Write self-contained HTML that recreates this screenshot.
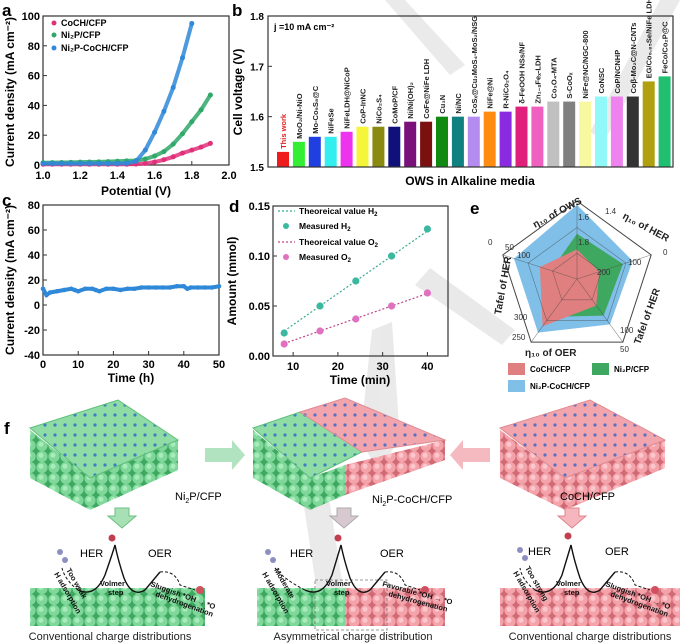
<!DOCTYPE html>
<html><head><meta charset="utf-8">
<style>
body{margin:0;background:#fff;}
svg{display:block;font-family:"Liberation Sans",Arial,sans-serif;}
.b{font-weight:bold}
</style></head>
<body>
<svg id="fig" width="689" height="644" viewBox="0 0 689 644" xmlns="http://www.w3.org/2000/svg">
<defs>
<pattern id="gCirc" width="12" height="11" patternUnits="userSpaceOnUse"><rect width="12" height="11" fill="#3fa860"/><circle cx="6" cy="5.5" r="5.6" fill="#7fd79a"/><circle cx="5" cy="4.3" r="2.5" fill="#a8ecbb"/></pattern>
<pattern id="rCirc" width="12" height="11" patternUnits="userSpaceOnUse"><rect width="12" height="11" fill="#d06a74"/><circle cx="6" cy="5.5" r="5.6" fill="#f4a3ab"/><circle cx="5" cy="4.3" r="2.5" fill="#fbc7cc"/></pattern>
<pattern id="gTop" width="10" height="10" patternUnits="userSpaceOnUse"><rect width="10" height="10" fill="#8fdca5"/><circle cx="5" cy="5" r="1.6" fill="#3b7fc0"/></pattern>
<pattern id="rTop" width="10" height="10" patternUnits="userSpaceOnUse"><rect width="10" height="10" fill="#f2a5ad"/><circle cx="5" cy="5" r="1.6" fill="#5a6fc0"/></pattern>
</defs>

<g fill="#dcdcdc" opacity="0.6">
<polygon points="385,0 405,0 465,65 450,75"/>
<polygon points="660,0 680,0 605,140 590,132"/>
<polygon points="415,285 430,268 515,330 502,345"/>
<polygon points="372,330 392,322 400,440 378,470 360,440"/>
<polygon points="300,480 325,472 345,600 322,625"/>
</g>

<g id="pa"></g>
<g id="pb"></g>
<g id="pc"></g>
<g id="pd"></g>
<g id="pe"></g>

<g>
<text x="4" y="434" class="b" font-size="17">f</text>
<g>
<polygon points="30,430 30,478 90,510 178,470 178,440 90,478" fill="url(#gCirc)"/>
<polygon points="30,428 118,400 178,440 90,478" fill="url(#gTop)" stroke="#5fbf7a"/>
</g>
<text x="175" y="500" font-size="11">Ni<tspan font-size="7" dy="3">2</tspan><tspan dy="-3">P/CFP</tspan></text>
<g>
<polygon points="253,430 253,478 310,510 345,495 345,465 310,478" fill="url(#gCirc)"/>
<polygon points="345,465 345,495 445,460 445,440" fill="url(#rCirc)"/>
<polygon points="253,428 300,412 362,452 310,478" fill="url(#gTop)" stroke="#5fbf7a"/>
<polygon points="300,412 345,398 445,440 362,452" fill="url(#rTop)" stroke="#e08a92"/>
</g>
<text x="372" y="503" font-size="11">Ni<tspan font-size="7" dy="3">2</tspan><tspan dy="-3">P-CoCH/CFP</tspan></text>
<g>
<polygon points="500,430 500,478 565,510 665,468 665,440 565,478" fill="url(#rCirc)"/>
<polygon points="500,428 590,400 665,440 565,478" fill="url(#rTop)" stroke="#e08a92"/>
</g>
<text x="560" y="500" font-size="11">CoCH/CFP</text>
<polygon points="205,448 232,448 232,440 245,455 232,470 232,462 205,462" fill="#9fdcb0" opacity="0.8"/>
<polygon points="490,448 463,448 463,440 450,455 463,470 463,462 490,462" fill="#f3a9b0" opacity="0.8"/>
<polygon points="115,508 129,508 129,516 136,516 122,528 108,516 115,516" fill="#a8e0b6" stroke="#6bbf82"/>
<polygon points="337,508 351,508 351,516 358,516 344,528 330,516 337,516" fill="#d8c9d0" stroke="#aaa"/>
<polygon points="565,508 579,508 579,516 586,516 572,528 558,516 565,516" fill="#f6b6bd" stroke="#e0848e"/>

<rect x="30" y="588" width="175" height="38" fill="url(#gCirc)"/>
<rect x="257" y="588" width="88" height="38" fill="url(#gCirc)"/>
<rect x="345" y="588" width="100" height="38" fill="url(#rCirc)"/>
<rect x="500" y="588" width="180" height="38" fill="url(#rCirc)"/>
<rect x="315" y="580" width="72" height="50" fill="none" stroke="#777" stroke-dasharray="3,2" stroke-width="0.8"/>

<g font-size="11">
<text x="80" y="557">HER</text>
<text x="148" y="557">OER</text>
<text x="290" y="557">HER</text>
<text x="380" y="557">OER</text>
<text x="528" y="555">HER</text>
<text x="605" y="555">OER</text>
</g>
<g fill="none" stroke="#111" stroke-width="1.4">
<path d="M78,590 Q95,598 105,575 Q112,555 115,545 Q118,560 124,578 Q132,598 145,590 Q155,578 160,572"/>
<path d="M305,590 Q322,598 332,575 Q338,555 341,545 Q344,560 350,578 Q358,598 370,590 Q380,578 385,572"/>
<path d="M535,590 Q552,598 562,575 Q568,555 571,545 Q574,560 580,578 Q588,598 600,590 Q610,578 615,572"/>
</g>
<g fill="none" stroke="#111" stroke-width="1" stroke-dasharray="3,2">
<path d="M78,590 Q65,580 62,568"/><path d="M160,572 Q175,570 180,585 L195,590"/>
<path d="M305,590 Q285,580 275,568"/><path d="M385,572 Q400,570 405,585 L420,590"/>
<path d="M535,590 Q522,580 520,568"/><path d="M615,572 Q630,570 635,585 L650,590"/>
</g>
<g fill="#8e8ec0">
<circle cx="60" cy="552" r="3"/><circle cx="65" cy="560" r="3"/>
<circle cx="268" cy="552" r="3"/><circle cx="273" cy="560" r="3"/>
<circle cx="520" cy="550" r="3"/><circle cx="525" cy="558" r="3"/>
<circle cx="200" cy="590" r="4" fill="#d05060"/><circle cx="425" cy="590" r="4" fill="#d05060"/><circle cx="655" cy="590" r="4" fill="#d05060"/>
<circle cx="112" cy="538" r="3.5" fill="#c04050"/><circle cx="338" cy="538" r="3.5" fill="#c04050"/><circle cx="568" cy="536" r="3.5" fill="#c04050"/>
</g>
<g font-size="7.5" class="b" fill="#111">
<text transform="translate(66,570) rotate(60)">Too weak</text>
<text transform="translate(54,574) rotate(60)">H adsorption</text>
<text x="100" y="586">Volmer</text>
<text x="108" y="595">step</text>
<text transform="translate(150,586) rotate(20)">Sluggish *OH → *O</text>
<text transform="translate(155,596) rotate(20)">dehydrogenation</text>
<text transform="translate(274,570) rotate(60)">Moderate</text>
<text transform="translate(262,574) rotate(60)">H adsorption</text>
<text x="326" y="586">Volmer</text>
<text x="334" y="595">step</text>
<text transform="translate(382,586) rotate(15)">Favorable *OH → *O</text>
<text transform="translate(388,596) rotate(15)">dehydrogenation</text>
<text transform="translate(525,568) rotate(60)">Too strong</text>
<text transform="translate(513,573) rotate(60)">H adsorption</text>
<text x="556" y="586">Volmer</text>
<text x="564" y="595">step</text>
<text transform="translate(605,586) rotate(20)">Sluggish *OH → *O</text>
<text transform="translate(610,596) rotate(20)">dehydrogenation</text>
</g>
<g font-size="11" fill="#222" text-anchor="middle">
<text x="110" y="640">Conventional charge distributions</text>
<text x="353" y="640">Asymmetrical charge distribution</text>
<text x="590" y="640">Conventional charge distributions</text>
</g>
</g>
</svg>

<script>
const aPotentials=[1.0,1.05,1.1,1.15,1.2,1.25,1.3,1.35,1.4,1.45,1.5,1.55,1.6,1.65,1.7,1.75,1.8,1.85,1.9];
const aCoCH=[0.5,0.5,0.5,0.5,0.5,0.5,0.5,0.5,0.5,0.5,0.6,1,2,3.5,5.5,8,10,12,14.5];
const aNi2P=[1.5,1.6,1.7,1.8,1.9,2,2.1,2.3,2.5,2.8,3,4,6,9,14,21,29,37,47];
const aHetero=[1,1,1,1,1,1,1,1,1,1.2,2.5,10,22,36,52,72,95];
const aXTicks=[1.0,1.2,1.4,1.6,1.8,2.0];
const aYTicks=[0,20,40,60,80,100];

const bLabels=["This work","MoO₂/Ni-NiO","Mo-Co₉S₈@C","NiFeSe","NiFeLDH@NiCoP","CoP-InNC","NiCo₂S₄","CoMoP/CF","Ni/Ni(OH)₂","CoFe@NiFe LDH","Cu₃N","Ni/NC","CoSₓ@Cu₂MoS₄-MoS₂/NSG","NiFe@Ni","R-NiCo₂O₄","δ-FeOOH NSs/NF","Zn₁₋ₓFeₓ-LDH","Co₃O₄-MTA","S-CoOₓ","NiFe@NC/NGC-800","CoNSC","CoP/NCNHP","Coβ-Mo₂C@N-CNTs","EG/Co₀.₈₅Se/NiFe LDH","FeCo/Co₂P@C"];
const bValues=[1.53,1.55,1.56,1.56,1.57,1.58,1.58,1.58,1.59,1.59,1.60,1.60,1.60,1.61,1.61,1.62,1.62,1.63,1.63,1.63,1.64,1.64,1.64,1.67,1.68];
const bColors=["#ee1c1c","#33ee33","#1f3fe0","#33eeee","#ee33ee","#f5f53a","#8a8a10","#10107a","#7a107a","#7a1010","#108a10","#108080","#b48cf0","#ff8c10","#8a2be2","#e0207a","#f060c0","#c0c0c0","#808080","#f8f8a0","#90f8f8","#ee82ee","#333333","#b0a010","#20c070"];
const bYTicks=[1.5,1.6,1.7,1.8];

const cTimes=[0,1,2,4,6,8,9,10,12,14,15,16,18,20,22,24,26,28,30,32,34,36,38,40,41,42,44,46,48,50];
const cCurrent=[13,8,10,11,12,13,12,11,13,13,12,11,13,13,12,13,13,14,14,14,14,14,15,15,13,14,14,14,14,15];
const cXTicks=[0,10,20,30,40,50];
const cYTicks=[-40,-20,0,20,40,60,80];

const dTimes=[8,16,24,32,40];
const dH2=[0.023,0.050,0.075,0.100,0.127];
const dO2=[0.012,0.025,0.037,0.050,0.063];
const dTheoH2=[0.025,0.125];
const dTheoO2=[0.0125,0.0625];
const dXTicks=[10,20,30,40];
const dYTicks=[0,0.05,0.10,0.15];

const eAxes=["η10 of OWS","η10 of HER","Tafel of HER","η10 of OER","Tafel of HER"];
const eHetero=[0.95,0.75,0.72,0.85,0.85];
const eNi2P=[0.58,0.62,0.58,0.6,0.35];
const eCoCH=[0.38,0.3,0.42,0.75,0.5];

const NS="http://www.w3.org/2000/svg";
function mk(parent,tag,attrs,txt){const e=document.createElementNS(NS,tag);for(const k in attrs)e.setAttribute(k,attrs[k]);if(txt!==undefined)e.textContent=txt;parent.appendChild(e);return e;}
function lin(d0,d1,r0,r1){return v=>r0+(v-d0)*(r1-r0)/(d1-d0);}

(function(){
const g=document.getElementById('pa');
const x=lin(1.0,2.0,43,229), y=lin(0,100,165,16);
let t=mk(g,'text',{x:2,y:16,'font-size':17,'font-weight':'bold'},'a');


let fr=mk(g,'rect',{x:43,y:16,width:186,height:149,fill:'none',stroke:'#333','stroke-width':1.2});


aXTicks.forEach(v=>{mk(g,'line',{x1:x(v),x2:x(v),y1:165,y2:161,stroke:'#333'});
 const tl=mk(g,'text',{x:x(v),y:179,'font-size':11,'font-weight':'bold','text-anchor':'middle'},v.toFixed(1));
 
 });
aYTicks.forEach(v=>{mk(g,'line',{x1:43,x2:47,y1:y(v),y2:y(v),stroke:'#333'});
 const tl=mk(g,'text',{x:40,y:y(v)+4,'font-size':11,'font-weight':'bold','text-anchor':'end'},v);
 
 });
let xt=mk(g,'text',{x:136,y:195,'font-size':12,'font-weight':'bold','text-anchor':'middle'},'Potential (V)');


let yt=mk(g,'text',{transform:'translate(14,92) rotate(-90)','font-size':12,'font-weight':'bold','text-anchor':'middle'},'Current density (mA cm⁻²)');


const series=[[aCoCH,'#e0307a','CoCH/CFP'],[aNi2P,'#2fa86a','Ni2P/CFP'],[aHetero,'#2f88d8','Ni2P-CoCH/CFP']];
series.forEach(([vals,col,name])=>{
 const pts=vals.map((v,i)=>x(aPotentials[i])+','+y(v)).join(' ');
 const pl=mk(g,'polyline',{points:pts,fill:'none',stroke:col,'stroke-width':4,opacity:0.85});
 
 
 vals.forEach((v,i)=>{const c=mk(g,'circle',{cx:x(aPotentials[i]),cy:y(v),r:2.5,fill:col});
  
  });
});
const leg=[['CoCH/CFP','#e0307a',26],['Ni₂P/CFP','#2fa86a',38],['Ni₂P-CoCH/CFP','#2f88d8',51]];
leg.forEach(([n,c,yy])=>{const le=mk(g,'g',{});
 
 
 mk(le,'circle',{cx:54,cy:yy-3,r:2.5,fill:c});
 mk(le,'text',{x:61,y:yy,'font-size':9,'font-weight':'bold'},n);});
})();

(function(){
const g=document.getElementById('pb');
const y=lin(1.5,1.8,167,16);
const xc=i=>283+i*15.9;
let t=mk(g,'text',{x:232,y:16,'font-size':17,'font-weight':'bold'},'b');


bValues.forEach((v,i)=>{
 const r=mk(g,'rect',{x:xc(i)-6,y:y(v),width:12,height:167-y(v),fill:bColors[i]});
 
 
 const l=mk(g,'text',{transform:`translate(${xc(i)+3},${y(v)-3}) rotate(-90)`,'font-size':7.5,'font-weight':'bold',fill:i===0?'#e02020':'#222'},bLabels[i]);
 
 
});
let fr=mk(g,'rect',{x:268,y:16,width:405,height:151,fill:'none',stroke:'#333','stroke-width':1.2});


bYTicks.forEach(v=>{mk(g,'line',{x1:268,x2:272,y1:y(v),y2:y(v),stroke:'#333'});
 const tl=mk(g,'text',{x:264,y:y(v)+4,'font-size':10,'font-weight':'bold','text-anchor':'end'},v.toFixed(1));
 
 });
let yt=mk(g,'text',{transform:'translate(242,92) rotate(-90)','font-size':12,'font-weight':'bold','text-anchor':'middle'},'Cell voltage (V)');


let xt=mk(g,'text',{x:470,y:185,'font-size':12,'font-weight':'bold','text-anchor':'middle'},'OWS in Alkaline media');


let an=mk(g,'text',{x:274,y:30,'font-size':9,'font-weight':'bold'},'j =10 mA cm⁻²');


})();

(function(){
const g=document.getElementById('pc');
const x=lin(0,50,43,219), y=lin(-40,80,355,205);
let t=mk(g,'text',{x:2,y:206,'font-size':17,'font-weight':'bold'},'c');


let fr=mk(g,'rect',{x:43,y:205,width:176,height:150,fill:'none',stroke:'#333','stroke-width':1.2});


cXTicks.forEach(v=>{mk(g,'line',{x1:x(v),x2:x(v),y1:355,y2:351,stroke:'#333'});
 const tl=mk(g,'text',{x:x(v),y:368,'font-size':11,'font-weight':'bold','text-anchor':'middle'},v);
 
 });
cYTicks.forEach(v=>{mk(g,'line',{x1:43,x2:47,y1:y(v),y2:y(v),stroke:'#333'});
 const tl=mk(g,'text',{x:40,y:y(v)+4,'font-size':11,'font-weight':'bold','text-anchor':'end'},v);
 
 });
let pl=mk(g,'polyline',{points:cTimes.map((v,i)=>x(v)+','+y(cCurrent[i])).join(' '),fill:'none',stroke:'#2f88d8','stroke-width':4});


cTimes.forEach((v,i)=>{const c=mk(g,'circle',{cx:x(v),cy:y(cCurrent[i]),r:2.3,fill:'#2f88d8'});
 
 });
let xt=mk(g,'text',{x:131,y:382,'font-size':12,'font-weight':'bold','text-anchor':'middle'},'Time (h)');


let yt=mk(g,'text',{transform:'translate(14,280) rotate(-90)','font-size':12,'font-weight':'bold','text-anchor':'middle'},'Current density (mA cm⁻²)');


})();

(function(){
const g=document.getElementById('pd');
const x=lin(5.5,44.6,273,448), y=lin(0,0.15,356,206);
let t=mk(g,'text',{x:229,y:212,'font-size':17,'font-weight':'bold'},'d');


let fr=mk(g,'rect',{x:273,y:206,width:175,height:150,fill:'none',stroke:'#333','stroke-width':1.2});


dXTicks.forEach(v=>{mk(g,'line',{x1:x(v),x2:x(v),y1:356,y2:352,stroke:'#333'});
 const tl=mk(g,'text',{x:x(v),y:370,'font-size':11,'font-weight':'bold','text-anchor':'middle'},v);
 
 });
dYTicks.forEach(v=>{mk(g,'line',{x1:273,x2:277,y1:y(v),y2:y(v),stroke:'#333'});
 const tl=mk(g,'text',{x:270,y:y(v)+4,'font-size':11,'font-weight':'bold','text-anchor':'end'},v.toFixed(2));
 
 });
const lh=mk(g,'line',{x1:x(dTimes[0]),y1:y(dTheoH2[0]),x2:x(dTimes[4]),y2:y(dTheoH2[1]),stroke:'#3aaa90','stroke-dasharray':'2,2','stroke-width':1.2});


const lo=mk(g,'line',{x1:x(dTimes[0]),y1:y(dTheoO2[0]),x2:x(dTimes[4]),y2:y(dTheoO2[1]),stroke:'#c0448a','stroke-dasharray':'2,2','stroke-width':1.2});


dTimes.forEach((v,i)=>{
 const a=mk(g,'circle',{cx:x(v),cy:y(dH2[i]),r:3.6,fill:'#3ab8a0'});
 
 
 const b=mk(g,'circle',{cx:x(v),cy:y(dO2[i]),r:3.6,fill:'#e070c0'});
 
 
});
const L=[['dash','#3aaa90','Theoreical value H',214],['dot','#3ab8a0','Measured H',229],['dash','#c0448a','Theoreical value O',245],['dot','#e070c0','Measured O',260]];
L.forEach(([k,c,n,yy])=>{const le=mk(g,'g',{});
 
 
 if(k==='dash')mk(le,'line',{x1:278,x2:295,y1:yy-3,y2:yy-3,stroke:c,'stroke-dasharray':'2,2','stroke-width':1.2});
 else mk(le,'circle',{cx:286,cy:yy-3,r:3,fill:c});
 const tx=mk(le,'text',{x:299,y:yy,'font-size':8.5,'font-weight':'bold'},n);
 mk(tx,'tspan',{'font-size':6,dy:2},'2');});
let xt=mk(g,'text',{x:360,y:384,'font-size':12,'font-weight':'bold','text-anchor':'middle'},'Time (min)');


let yt=mk(g,'text',{transform:'translate(236,281) rotate(-90)','font-size':12,'font-weight':'bold','text-anchor':'middle'},'Amount (mmol)');


})();

(function(){
const g=document.getElementById('pe');
const cx=577,cy=279,R=78;
const ang=i=>(-90+72*i)*Math.PI/180;
const pt=(i,f)=>[cx+R*f*Math.cos(ang(i)),cy+R*f*Math.sin(ang(i))];
let t=mk(g,'text',{x:470,y:214,'font-size':17,'font-weight':'bold'},'e');


const poly=(vals,fill,name)=>{const p=mk(g,'polygon',{points:vals.map((v,i)=>pt(i,v).join(',')).join(' '),fill:fill});
 
 };
poly(eHetero,'#7fbfe8','radar-ni2p-coch-cfp');
poly(eNi2P,'#3fa860','radar-ni2p-cfp');
poly(eCoCH,'#e07f7f','radar-coch-cfp');
[1,0.66,0.33].forEach(f=>{mk(g,'polygon',{points:[0,1,2,3,4].map(i=>pt(i,f).join(',')).join(' '),fill:'none',stroke:'#444','stroke-width':f===1?1:0.6,opacity:f===1?1:0.6});});
[0,1,2,3,4].forEach(i=>{const p=pt(i,1);mk(g,'line',{x1:cx,y1:cy,x2:p[0],y2:p[1],stroke:'#444','stroke-width':0.6,opacity:0.6});});
const labs=[['translate(535,228) rotate(-28)','η₁₀ of OWS'],['translate(622,218) rotate(28)','η₁₀ of HER'],['translate(640,345) rotate(-70)','Tafel of HER'],['translate(525,356)','η₁₀ of OER'],['translate(501,315) rotate(-80)','Tafel of HER']];
labs.forEach(([tr,n])=>{const l=mk(g,'text',{transform:tr,'font-size':10,'font-weight':'bold',fill:'#222'},n);
 
 });
const sm=[[605,214,'1.4'],[578,220,'1.6'],[578,245,'1.8'],[663,255,'0'],[628,265,'100'],[597,275,'200'],[488,245,'0'],[505,250,'50'],[517,258,'100'],[514,320,'300'],[512,340,'250'],[620,333,'100'],[620,352,'50']];
sm.forEach(([xx,yy,s])=>{const l=mk(g,'text',{x:xx,y:yy,'font-size':8,fill:'#333'},s);
 
 });
const leg=[['#e07f7f',508,363,'CoCH/CFP'],['#3fa860',592,363,'Ni₂P/CFP'],['#7fbfe8',508,380,'Ni₂P-CoCH/CFP']];
leg.forEach(([c,xx,yy,n])=>{const le=mk(g,'g',{});
 
 
 mk(le,'rect',{x:xx,y:yy,width:17,height:12,fill:c});
 mk(le,'text',{x:xx+22,y:yy+9,'font-size':8,'font-weight':'bold'},n);});
})();
</script>
</body></html>
